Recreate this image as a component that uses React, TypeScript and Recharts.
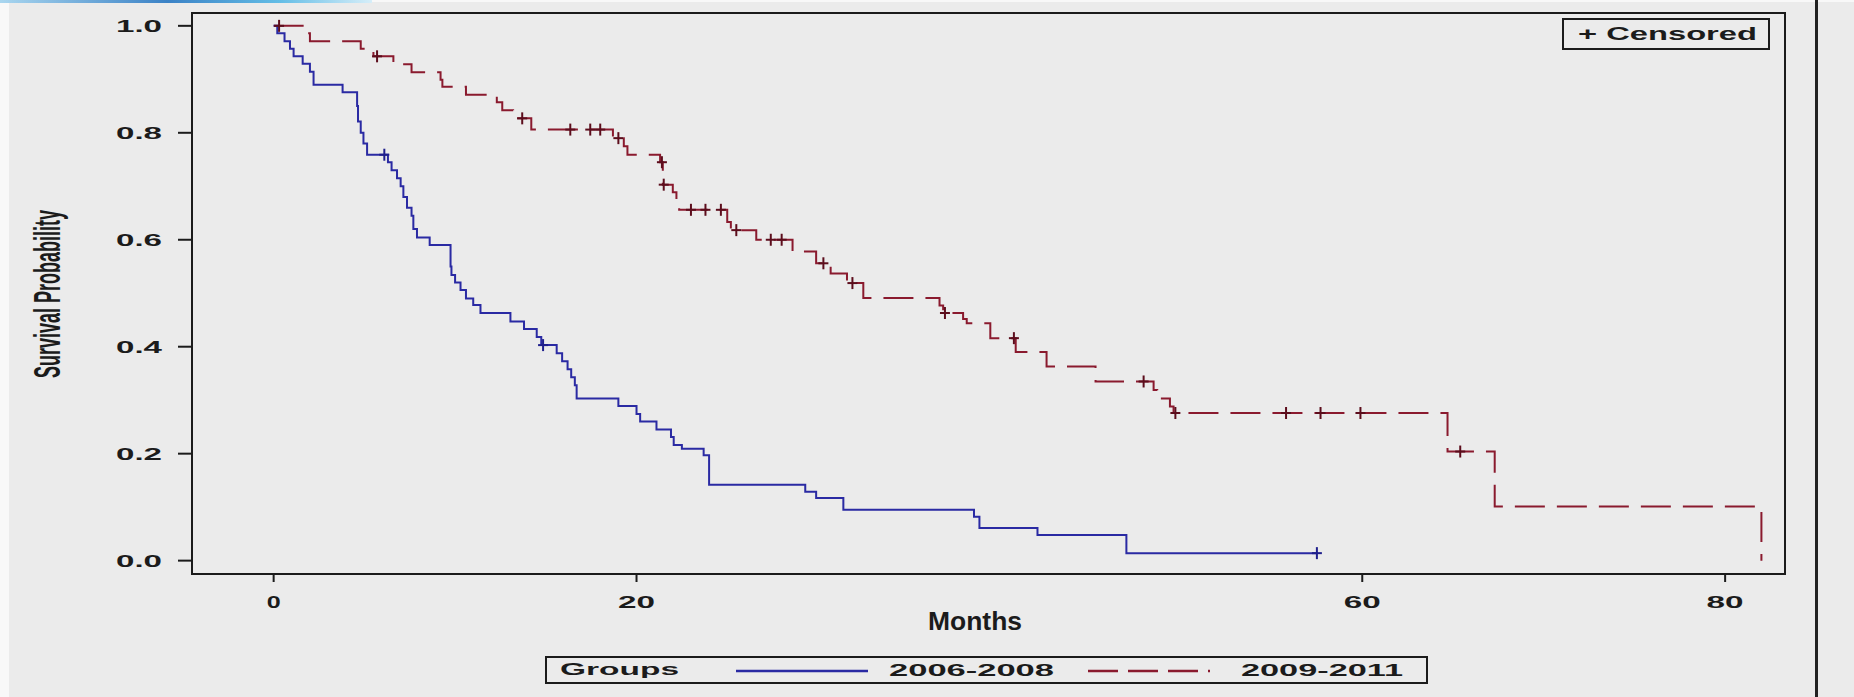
import React from "react"
import { ComposedChart, Line, Scatter, XAxis, YAxis, ReferenceArea } from "recharts"

// Kaplan-Meier steps, 2006-2008 group (months, survival after the step)
const earlyTimes = [
  0, 0.2, 0.6, 0.9, 1.1, 1.6, 2.0, 2.2, 3.8, 4.6,
  4.65, 4.8, 4.95, 5.15, 6.3, 6.5, 6.8, 7.0, 7.15, 7.35,
  7.6, 7.7, 7.9, 8.6, 9.75, 9.8, 10.0, 10.3, 10.6, 11.0,
  11.4, 13.05, 13.8, 14.5, 14.75, 15.6, 15.9, 16.2, 16.4, 16.6,
  16.7, 19.0, 20.0, 20.2, 21.1, 21.9, 22.05, 22.5, 23.7, 24.0,
  29.3, 29.9, 31.4, 38.6, 38.9, 42.1, 47.0, 57.5,
]
const earlySurvival = [
  1.0, 0.986, 0.971, 0.957, 0.943, 0.929, 0.914, 0.89, 0.876, 0.85,
  0.821, 0.8, 0.78, 0.759, 0.745, 0.73, 0.715, 0.7, 0.68, 0.66,
  0.645, 0.62, 0.604, 0.59, 0.55, 0.534, 0.52, 0.506, 0.49, 0.478,
  0.463, 0.447, 0.433, 0.418, 0.403, 0.388, 0.373, 0.358, 0.343, 0.328,
  0.303, 0.289, 0.274, 0.26, 0.245, 0.231, 0.216, 0.209, 0.197, 0.142,
  0.129, 0.117, 0.095, 0.082, 0.061, 0.048, 0.014, 0.014,
]
const earlyCensored = [6.1, 14.85, 57.5]

// 2009-2011 group
const lateTimes = [
  0, 1.7, 2.0, 4.8, 5.5, 6.6, 7.6, 9.2, 9.3, 10.6,
  12.3, 12.6, 13.2, 14.2, 18.7, 19.3, 19.5, 21.3, 21.45, 22.0,
  22.2, 22.35, 25.0, 25.2, 26.6, 28.6, 29.9, 30.7, 31.6, 32.5,
  36.7, 36.9, 38.0, 38.2, 39.5, 40.9, 42.6, 45.3, 48.5, 48.7,
  49.4, 49.6, 64.7, 67.3, 82.0,
]
const lateSurvival = [
  1.0, 0.986, 0.971, 0.957, 0.943, 0.928, 0.913, 0.899, 0.886, 0.871,
  0.857, 0.842, 0.827, 0.806, 0.79, 0.775, 0.759, 0.745, 0.703, 0.689,
  0.672, 0.656, 0.633, 0.618, 0.6, 0.578, 0.556, 0.537, 0.519, 0.491,
  0.477, 0.463, 0.452, 0.444, 0.416, 0.39, 0.363, 0.335, 0.319, 0.303,
  0.288, 0.276, 0.204, 0.101, 0.0,
]
const lateCensored = [
  0.3, 5.7, 13.7, 16.35, 17.45, 18.0, 19.0, 21.4, 21.5, 23.0,
  23.8, 24.65, 25.5, 27.4, 28.0, 30.3, 31.9, 37.0, 40.8, 47.95,
  49.7, 55.8, 57.7, 59.9, 65.4,
]

const xTicks = [0, 20, 60, 80]
const yTicks = [0, 0.2, 0.4, 0.6, 0.8, 1.0]
const groupLabels = ["2006-2008", "2009-2011"]

const BLUE = "#2a2aa3"
const RED = "#8a1a2e"
const INK = "#1b1b1b"
const FONT = "'Liberation Sans', Arial, sans-serif"

const toSteps = (times: number[], surv: number[]) => times.map((t, i) => ({ t, s: surv[i] }))

// value of the step curve at time t (censor marks sit on the curve)
function survivalAt(times: number[], surv: number[], t: number) {
  let v = surv[0]
  for (let i = 0; i < times.length; i++) if (times[i] <= t) v = surv[i]
  return v
}

const earlyData = toSteps(earlyTimes, earlySurvival)
const lateData = toSteps(lateTimes, lateSurvival)
const earlyMarks = earlyCensored.map((t) => ({ t, s: survivalAt(earlyTimes, earlySurvival, t) }))
const lateMarks = lateCensored.map((t) => ({ t, s: survivalAt(lateTimes, lateSurvival, t) }))

function CensorMark({ cx, cy, color }: { cx?: number; cy?: number; color: string }) {
  if (cx == null || cy == null) return null
  return (
    <g stroke={color} strokeWidth={2}>
      <line x1={cx} x2={cx} y1={cy - 6} y2={cy + 6} />
      <line x1={cx - 5} x2={cx + 5} y1={cy} y2={cy} />
    </g>
  )
}

function YTick({ x, y, payload }: { x?: number; y?: number; payload?: { value: number } }) {
  return (
    <text x={x} y={y} dy={6} textAnchor="end" fontSize={17} fontWeight="bold" fontFamily={FONT}
      fill={INK} textLength={46} lengthAdjust="spacingAndGlyphs">
      {payload?.value.toFixed(1)}
    </text>
  )
}

function XTick({ x, y, payload }: { x?: number; y?: number; payload?: { value: number } }) {
  const label = String(payload?.value)
  return (
    <text x={x} y={(y ?? 0) + 16} textAnchor="middle" fontSize={17} fontWeight="bold" fontFamily={FONT}
      fill={INK} textLength={label.length === 1 ? 14 : 37} lengthAdjust="spacingAndGlyphs">
      {label}
    </text>
  )
}

export default function App() {
  return (
    <div style={{ position: "absolute", left: 0, top: 0, width: 1854, height: 697, background: "#f8f8f8", overflow: "hidden" }}>
      <div style={{ position: "absolute", left: 9, top: 2, right: 0, bottom: 0, background: "#ebebeb" }} />
      <div style={{ position: "absolute", left: 0, top: 0, width: 372, height: 3, background: "linear-gradient(90deg, #a9d6ef, #3b82c6 45%, #63bde6 75%, #d6eef9)" }} />
      <div style={{ position: "absolute", left: 1815, top: 0, width: 3, height: 697, background: "#222" }} />

      <div style={{ position: "absolute", left: 0, top: 0 }}>
        <ComposedChart width={1854} height={697} margin={{ top: 13, right: 69, bottom: 63, left: 72 }}>
          <XAxis
            type="number"
            dataKey="t"
            domain={[-4.5, 83.3]}
            ticks={xTicks}
            allowDataOverflow
            height={60}
            tickSize={8}
            tickMargin={10}
            axisLine={{ stroke: INK, strokeWidth: 2 }}
            tickLine={{ stroke: INK, strokeWidth: 2 }}
            tick={<XTick />}
          />
          <YAxis
            type="number"
            domain={[-0.025, 1.024]}
            ticks={yTicks}
            allowDataOverflow
            width={120}
            tickSize={14}
            tickMargin={16}
            axisLine={{ stroke: INK, strokeWidth: 2 }}
            tickLine={{ stroke: INK, strokeWidth: 2 }}
            tick={<YTick />}
          />
          <ReferenceArea x1={-4.5} x2={83.3} y1={-0.025} y2={1.024} ifOverflow="visible"
            fill="none" stroke={INK} strokeWidth={2} />
          <Line data={lateData} dataKey="s" type="stepAfter" stroke={RED} strokeWidth={2}
            strokeDasharray="30 12" dot={false} activeDot={false} isAnimationActive={false} />
          <Line data={earlyData} dataKey="s" type="stepAfter" stroke={BLUE} strokeWidth={2}
            dot={false} activeDot={false} isAnimationActive={false} />
          <Scatter data={lateMarks} dataKey="s" isAnimationActive={false}
            shape={(p: any) => <CensorMark cx={p.cx} cy={p.cy} color="#5c0d1c" />} />
          <Scatter data={earlyMarks} dataKey="s" isAnimationActive={false}
            shape={(p: any) => <CensorMark cx={p.cx} cy={p.cy} color="#1f1f8c" />} />
        </ComposedChart>
      </div>

      <svg width={1854} height={697} style={{ position: "absolute", left: 0, top: 0, pointerEvents: "none" }}>
        {/* axis titles */}
        <text transform="translate(60,294) rotate(-90)" textAnchor="middle" fontSize={36} fontWeight="bold"
          fontFamily={FONT} fill={INK} textLength={168} lengthAdjust="spacingAndGlyphs">
          Survival Probability
        </text>
        <text x={975} y={630} textAnchor="middle" fontSize={26} fontWeight="bold" fontFamily={FONT}
          fill={INK} textLength={94} lengthAdjust="spacingAndGlyphs">
          Months
        </text>

        {/* censored key */}
        <rect x={1563} y={19} width={206} height={30} fill="none" stroke={INK} strokeWidth={2} />
        <text x={1578} y={40} fontSize={18} fontWeight="bold" fontFamily={FONT} fill={INK}
          textLength={179} lengthAdjust="spacingAndGlyphs">
          + Censored
        </text>

        {/* group legend */}
        <rect x={546} y={657} width={881} height={26} fill="none" stroke={INK} strokeWidth={2} />
        <text x={560} y={675} fontSize={16} fontWeight="bold" fontFamily={FONT} fill={INK}
          textLength={119} lengthAdjust="spacingAndGlyphs">
          Groups
        </text>
        <line x1={736} x2={868} y1={671} y2={671} stroke={BLUE} strokeWidth={2.5} />
        <text x={889} y={676} fontSize={16} fontWeight="bold" fontFamily={FONT} fill={INK}
          textLength={165} lengthAdjust="spacingAndGlyphs">
          {groupLabels[0]}
        </text>
        <line x1={1088} x2={1210} y1={671} y2={671} stroke={RED} strokeWidth={2.5} strokeDasharray="30 10" />
        <text x={1241} y={676} fontSize={16} fontWeight="bold" fontFamily={FONT} fill={INK}
          textLength={162} lengthAdjust="spacingAndGlyphs">
          {groupLabels[1]}
        </text>
      </svg>
    </div>
  )
}
